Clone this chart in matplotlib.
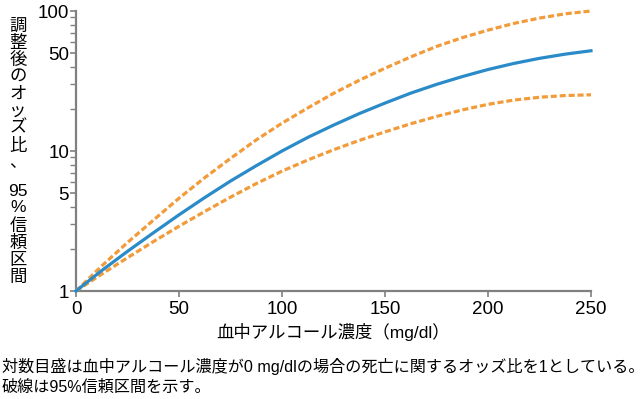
import matplotlib
matplotlib.use("Agg")
import matplotlib.pyplot as plt
from matplotlib.ticker import FixedLocator, FixedFormatter, NullFormatter

plt.rcParams['font.family'] = ['Liberation Sans', 'Noto Sans CJK JP']

# ---- data ----
bac = [0, 12.5, 25, 37.5, 50, 62.5, 75, 87.5, 100, 112.5, 125, 137.5,
       150, 162.5, 175, 187.5, 200, 212.5, 225, 237.5, 250]
odds = [1.00, 1.40, 1.92, 2.60, 3.50, 4.65, 6.10, 7.85, 10.0, 12.5, 15.3, 18.5,
        22.0, 25.9, 29.9, 34.0, 38.2, 42.2, 45.9, 49.2, 52.0]
upper = [1.00, 1.51, 2.22, 3.20, 4.60, 6.45, 8.85, 12.0, 15.8, 20.3, 25.8, 32.0,
         39.0, 47.0, 55.8, 64.5, 73.0, 81.5, 89.0, 95.5, 100.0]
lower = [1.00, 1.32, 1.73, 2.25, 2.90, 3.70, 4.68, 5.85, 7.18, 8.62, 10.2, 11.9,
         13.7, 15.65, 17.65, 19.65, 21.55, 23.1, 24.2, 24.9, 25.2]

x_ticks = [0, 50, 100, 150, 200, 250]
y_major = [1, 5, 10, 50, 100]
y_major_labels = ['1', '5', '10', '50', '100']
y_minor = [2, 3, 4, 6, 7, 8, 9, 20, 30, 40, 60, 70, 80, 90]

xlabel = '血中アルコール濃度（mg/dl）'
ylabel_chars = ['調', '整', '後', 'の', 'オ', 'ッ', 'ズ', '比', '、', '95', '%', '信', '頼', '区', '間']
caption1 = '対数目盛は血中アルコール濃度が0 mg/dlの場合の死亡に関するオッズ比を1としている。'
caption2 = '破線は95%信頼区間を示す。'

W, H = 644, 399
fig = plt.figure(figsize=(W / 100, H / 100), dpi=100)
ax = fig.add_axes([76 / W, 1 - 291 / H, (591 - 76) / W, (291 - 11) / H])

blue = '#2a8bc8'
orange = '#f29b3a'
ax.plot(bac, upper, color=orange, lw=2.3, dashes=(1.9, 0.9), clip_on=False, zorder=3)
ax.plot(bac, lower, color=orange, lw=2.3, dashes=(1.9, 0.9), clip_on=False, zorder=3)
ax.plot(bac, odds, color=blue, lw=2.3, clip_on=False, zorder=4)

ax.set_yscale('log')
ax.set_xlim(0, 250)
ax.set_ylim(1, 100)

ax.xaxis.set_major_locator(FixedLocator(x_ticks))
ax.yaxis.set_major_locator(FixedLocator(y_major))
ax.yaxis.set_major_formatter(FixedFormatter(y_major_labels))
ax.yaxis.set_minor_locator(FixedLocator(y_minor))
ax.yaxis.set_minor_formatter(NullFormatter())

gray = '#808080'
for s in ['top', 'right']:
    ax.spines[s].set_visible(False)
for s in ['left', 'bottom']:
    ax.spines[s].set_color(gray)
    ax.spines[s].set_linewidth(1.6)

ax.tick_params(axis='both', which='major', direction='out', length=4, width=1.2,
               color=gray, labelsize=13.5, labelcolor='black', pad=1)
ax.tick_params(axis='y', which='minor', direction='out', length=4, width=1.0, color=gray)
ax.tick_params(axis='x', which='major', pad=3)

ax.set_xlabel(xlabel, fontsize=12.5, labelpad=4)

# vertical stacked y label
ypos = [26, 43, 60, 77, 94, 111, 128, 146, 163, 191, 207, 226, 243, 260, 277]
for ch, yp in zip(ylabel_chars, ypos):
    fig.text(18 / W, 1 - yp / H, ch, ha='center', va='center', fontsize=12.5)

fig.text(2 / W, 1 - 366 / H, caption1, ha='left', va='center', fontsize=11.6)
fig.text(2 / W, 1 - 387 / H, caption2, ha='left', va='center', fontsize=11.6)

fig.savefig('out.png', dpi=100)
